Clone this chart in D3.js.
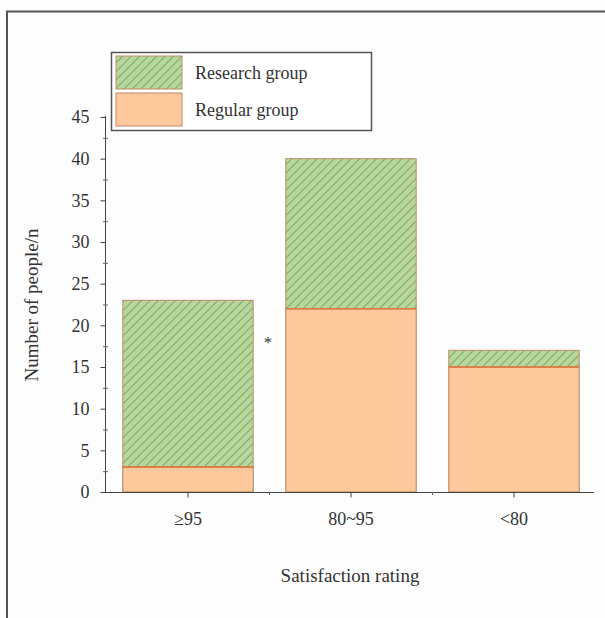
<!DOCTYPE html>
<html><head><meta charset="utf-8">
<script src="https://cdn.jsdelivr.net/npm/d3@7"></script>
<style>body{margin:0;background:#fdfdfd;} svg{display:block;}</style>
</head><body>
<svg id="chart" width="605" height="618"></svg>
<script>
const categories = ["≥95", "80~95", "<80"];
const regularGroup = [3, 22, 15];
const researchGroup = [20, 18, 2];
const yTicks = [0, 5, 10, 15, 20, 25, 30, 35, 40, 45];
const seriesNames = ["Research group", "Regular group"];

const svg = d3.select("#chart");
const font = "Liberation Serif, Times New Roman, serif";

svg.append("rect").attr("width",605).attr("height",618).attr("fill","#fdfdfd");
// outer frame
svg.append("path").attr("d","M7,620 V11.5 H610").attr("fill","none").attr("stroke","#555").attr("stroke-width",2);

const defs = svg.append("defs");
const pat = defs.append("pattern").attr("id","hatch").attr("patternUnits","userSpaceOnUse")
  .attr("width",6).attr("height",6).attr("patternTransform","rotate(45)");
pat.append("rect").attr("width",6).attr("height",6).attr("fill","#b7d79c");
pat.append("line").attr("x1",0).attr("y1",0).attr("x2",0).attr("y2",6).attr("stroke","#7fa766").attr("stroke-width",2);

const x = d3.scaleBand().domain(categories).range([106.5, 595.5]).paddingInner(0.2).paddingOuter(0.1);
const y = d3.scaleLinear().domain([0, 45]).range([492, 117]);

const stackData = categories.map((c,i)=>({cat:c, regular:regularGroup[i], research:researchGroup[i]}));
const stack = d3.stack().keys(["regular","research"])(stackData);
const fills = {regular:"#fdc89b", research:"url(#hatch)"};

const g = svg.append("g");
stack.forEach(layer=>{
  g.selectAll(null).data(layer).enter().append("rect")
    .attr("x", d=>x(d.data.cat))
    .attr("width", x.bandwidth())
    .attr("y", d=>y(d[1]))
    .attr("height", d=>y(d[0])-y(d[1]))
    .attr("fill", fills[layer.key])
    .attr("stroke", layer.key==="regular" ? "#b0805a" : "#c08a6a")
    .attr("stroke-width", 1);
});
g.selectAll(null).data(stackData).enter().append("line")
  .attr("x1", d=>x(d.cat)).attr("x2", d=>x(d.cat)+x.bandwidth())
  .attr("y1", d=>y(d.regular)).attr("y2", d=>y(d.regular))
  .attr("stroke","#e0773a").attr("stroke-width",1.5);

// y axis
const yAxis = svg.append("g").attr("transform","translate(105.5,0)")
  .call(d3.axisLeft(y).tickValues(yTicks).tickSize(5).tickPadding(11));
yAxis.select(".domain").attr("stroke","#444").attr("d","M0,492V116");
yAxis.selectAll(".tick line").attr("stroke","#444");
yAxis.selectAll("text").attr("font-family",font).attr("font-size",18).attr("fill","#333");
const minor = d3.range(2.5, 45, 5);
svg.append("g").selectAll("line").data(minor).enter().append("line")
  .attr("x1",103).attr("x2",108).attr("y1",d=>y(d)+0.5).attr("y2",d=>y(d)+0.5).attr("stroke","#666");

// x axis
const xAxis = svg.append("g").attr("transform","translate(0,492.5)")
  .call(d3.axisBottom(x).tickSize(5).tickPadding(15));
xAxis.select(".domain").attr("stroke","#444").attr("d","M105,0H594");
xAxis.selectAll(".tick line").attr("stroke","#444");
xAxis.selectAll("text").attr("font-family",font).attr("font-size",18).attr("fill","#333");
svg.append("g").selectAll("line").data([x(categories[1])-x.step()*0.1, x(categories[2])-x.step()*0.1]).enter().append("line")
  .attr("x1",d=>d).attr("x2",d=>d).attr("y1",492).attr("y2",495).attr("stroke","#666");

// titles
svg.append("text").attr("x",350).attr("y",582).attr("text-anchor","middle")
  .attr("font-family",font).attr("font-size",19).attr("fill","#333").text("Satisfaction rating");
svg.append("text").attr("transform","translate(38,305) rotate(-90)").attr("text-anchor","middle")
  .attr("font-family",font).attr("font-size",19).attr("fill","#333").text("Number of people/n");

// asterisk
svg.append("text").attr("x",268).attr("y",y(17.3)).attr("text-anchor","middle")
  .attr("font-family",font).attr("font-size",16).attr("fill","#333").text("*");

// legend
const leg = svg.append("g");
leg.append("rect").attr("x",111.5).attr("y",52.5).attr("width",260).attr("height",78)
  .attr("fill","#fff").attr("stroke","#555").attr("stroke-width",1.5);
const legFills = ["url(#hatch)", "#fdc89b"];
seriesNames.forEach((n,i)=>{
  leg.append("rect").attr("x",116).attr("y",56+i*37).attr("width",66).attr("height",33)
    .attr("fill",legFills[i]).attr("stroke","#c08a6a").attr("stroke-width",1);
  leg.append("text").attr("x",195).attr("y",79+i*37).attr("font-family",font).attr("font-size",18)
    .attr("fill","#333").text(n);
});
</script>
</body></html>
